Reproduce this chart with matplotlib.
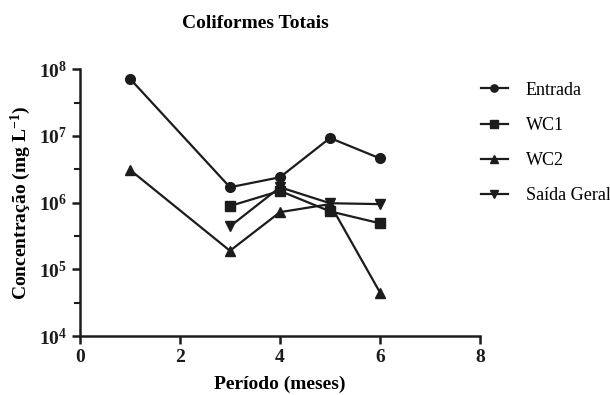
import matplotlib.pyplot as plt
import numpy as np
from matplotlib.ticker import FixedLocator, NullFormatter

plt.rcParams["font.family"] = ["Liberation Serif", "DejaVu Serif"]
plt.rcParams["mathtext.fontset"] = "custom"
plt.rcParams["mathtext.rm"] = "Liberation Serif:bold"
plt.rcParams["mathtext.bf"] = "Liberation Serif:bold"
plt.rcParams["mathtext.it"] = "Liberation Serif:bold"

# data
meses_entrada = [1, 3, 4, 5, 6]
entrada = [7.2e7, 1.7e6, 2.4e6, 9.3e6, 4.6e6]
meses_wc1 = [3, 4, 5, 6]
wc1 = [8.9e5, 1.5e6, 7.4e5, 4.9e5]
meses_wc2 = [1, 3, 4, 5, 6]
wc2 = [3.1e6, 1.9e5, 7.2e5, 9.5e5, 4.5e4]
meses_saida = [3, 4, 5, 6]
saida = [4.4e5, 1.7e6, 9.8e5, 9.5e5]

COLOR = "#1c1c1c"

fig = plt.figure(figsize=(6.1, 3.95), dpi=100)
ax = fig.add_axes([0.131, 0.149, 0.656, 0.676])

style = dict(color=COLOR, lw=1.6, markersize=7, clip_on=False)
ax.plot(meses_entrada, entrada, marker="o", label="Entrada", **style)
ax.plot(meses_wc1, wc1, marker="s", label="WC1", **style)
ax.plot(meses_wc2, wc2, marker="^", label="WC2", **style)
ax.plot(meses_saida, saida, marker="v", label="Saída Geral", **style)

ax.set_yscale("log")
ax.set_ylim(1e4, 1e8)
ax.set_xlim(0, 8)
ax.set_xticks([0, 2, 4, 6, 8])
ax.set_yticks([1e4, 1e5, 1e6, 1e7, 1e8])
ax.set_yticklabels([r"$10^{%d}$" % e for e in range(4, 9)])
ax.yaxis.set_minor_locator(FixedLocator([10 ** (e + 0.5) for e in range(4, 8)]))
ax.yaxis.set_minor_formatter(NullFormatter())

for s in ["top", "right"]:
    ax.spines[s].set_visible(False)
for s in ["left", "bottom"]:
    ax.spines[s].set_linewidth(1.8)
    ax.spines[s].set_color(COLOR)
ax.tick_params(axis="both", which="major", length=6, width=1.8, colors=COLOR,
               labelsize=14)
ax.tick_params(axis="y", which="minor", length=4, width=1.5, colors=COLOR)
for lbl in ax.get_xticklabels():
    lbl.set_fontweight("bold")

ax.set_xlabel("Período (meses)", fontsize=14, fontweight="bold", labelpad=7)
ax.set_ylabel("Concentração (mg L$^{-1}$)", fontsize=14, fontweight="bold", labelpad=4)
fig.text(0.418, 0.94, "Coliformes Totais", ha="center", va="center",
         fontsize=14, fontweight="bold")

ax.legend(loc="upper left", bbox_to_anchor=(0.97, 1.0), frameon=False,
          fontsize=13, handlelength=1.5, labelspacing=1.0, borderaxespad=0.3,
          handletextpad=1.0, markerscale=0.75)

fig.savefig("out.png", dpi=100)
